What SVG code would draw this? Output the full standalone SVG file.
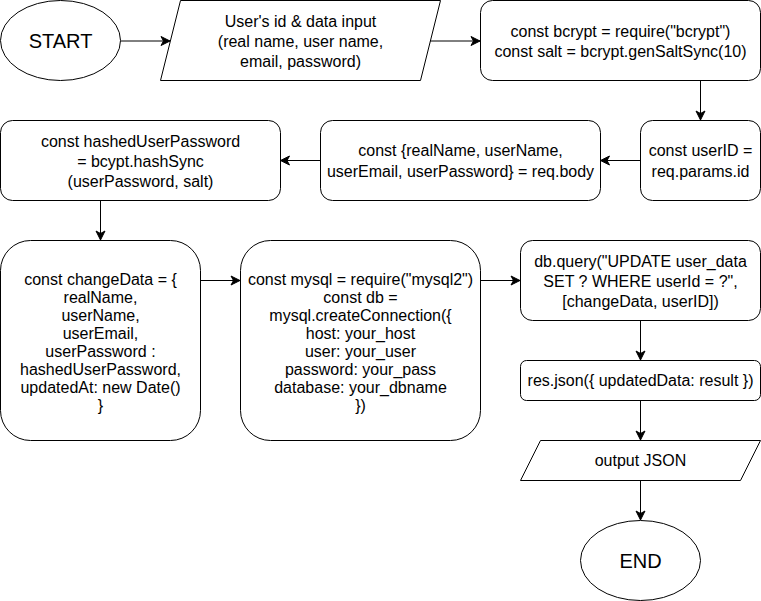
<svg xmlns="http://www.w3.org/2000/svg" width="761" height="601" viewBox="0 0 761 601">
<style>
.s{fill:#fff;stroke:#000;stroke-width:1}
.t{font-family:"Liberation Sans",Arial,sans-serif;font-size:16px;fill:#000;text-anchor:middle}
.big{font-size:20px}
.c{fill:none;stroke:#000;stroke-width:1;marker-end:url(#a)}
</style>
<defs>
<marker id="a" markerUnits="userSpaceOnUse" markerWidth="12" markerHeight="12" viewBox="-10 -6 12 12" refX="0" refY="0" orient="auto">
<path d="M0,0 L-9,-4.5 L-6.5,0 L-9,4.5 Z" fill="#000" stroke="#000" stroke-width="1"/>
</marker>
</defs>
<rect width="761" height="601" fill="#fff"/>
<g id="connectors">
<path class="c" d="M120.5,41 L170,41"/>
<path class="c" d="M430,41 L480,41"/>
<path class="c" d="M700.5,80.5 L700.5,120"/>
<path class="c" d="M640.5,160.5 L600.5,160.5"/>
<path class="c" d="M320.5,160.5 L280.5,160.5"/>
<path class="c" d="M100.5,200.5 L100.5,240"/>
<path class="c" d="M200.5,280.5 L240,280.5"/>
<path class="c" d="M480.5,280.5 L520,280.5"/>
<path class="c" d="M640.5,320.5 L640.5,360"/>
<path class="c" d="M640.5,400.5 L640.5,440"/>
<path class="c" d="M640.5,480.5 L640.5,520"/>
</g>
<g id="start">
<ellipse class="s" cx="60.5" cy="40.5" rx="60" ry="40"/>
<text class="t big" x="60.5" y="48">START</text>
</g>
<g id="input">
<polygon class="s" points="180.5,0.5 440.5,0.5 420.5,80.5 160.5,80.5"/>
<text class="t" x="300.5" y="26.5">User's id &amp; data input</text>
<text class="t" x="300.5" y="46.5">(real name, user name,</text>
<text class="t" x="300.5" y="66.5">email, password)</text>
</g>
<g id="bcrypt">
<rect class="s" x="480.5" y="0.5" width="280" height="80" rx="12"/>
<text class="t" x="620.5" y="37">const bcrypt = require("bcrypt")</text>
<text class="t" x="620.5" y="57">const salt = bcrypt.genSaltSync(10)</text>
</g>
<g id="userid">
<rect class="s" x="640.5" y="120.5" width="120" height="80" rx="12"/>
<text class="t" x="700.5" y="156">const userID =</text>
<text class="t" x="700.5" y="177">req.params.id</text>
</g>
<g id="reqbody">
<rect class="s" x="320.5" y="120.5" width="280" height="80" rx="12"/>
<text class="t" x="460.5" y="156">const {realName, userName,</text>
<text class="t" x="460.5" y="177">userEmail, userPassword} = req.body</text>
</g>
<g id="hashed">
<rect class="s" x="0.5" y="120.5" width="280" height="80" rx="12"/>
<text class="t" x="140.5" y="147">const hashedUserPassword</text>
<text class="t" x="140.5" y="167">= bcypt.hashSync</text>
<text class="t" x="140.5" y="187">(userPassword, salt)</text>
</g>
<g id="changedata">
<rect class="s" x="0.5" y="240.5" width="200" height="200" rx="30"/>
<text class="t" x="100.5" y="285">const changeData = {</text>
<text class="t" x="100.5" y="303">realName,</text>
<text class="t" x="100.5" y="321">userName,</text>
<text class="t" x="100.5" y="339">userEmail,</text>
<text class="t" x="100.5" y="357">userPassword :</text>
<text class="t" x="100.5" y="375">hashedUserPassword,</text>
<text class="t" x="100.5" y="393">updatedAt: new Date()</text>
<text class="t" x="100.5" y="411">}</text>
</g>
<g id="mysql">
<rect class="s" x="240.5" y="240.5" width="240" height="200" rx="30"/>
<text class="t" x="360.5" y="285">const mysql = require("mysql2")</text>
<text class="t" x="360.5" y="303">const db =</text>
<text class="t" x="360.5" y="321">mysql.createConnection({</text>
<text class="t" x="360.5" y="339">host: your_host</text>
<text class="t" x="360.5" y="357">user: your_user</text>
<text class="t" x="360.5" y="375">password: your_pass</text>
<text class="t" x="360.5" y="393">database: your_dbname</text>
<text class="t" x="360.5" y="411">})</text>
</g>
<g id="dbquery">
<rect class="s" x="520.5" y="240.5" width="240" height="80" rx="12"/>
<text class="t" x="640.5" y="267">db.query("UPDATE user_data</text>
<text class="t" x="640.5" y="287">SET ? WHERE userId = ?",</text>
<text class="t" x="640.5" y="307">[changeData, userID])</text>
</g>
<g id="resjson">
<rect class="s" x="520.5" y="360.5" width="240" height="40" rx="6"/>
<text class="t" x="640.5" y="386">res.json({ updatedData: result })</text>
</g>
<g id="output">
<polygon class="s" points="540.5,440.5 760.5,440.5 740.5,480.5 520.5,480.5"/>
<text class="t" x="640.5" y="466">output JSON</text>
</g>
<g id="end">
<ellipse class="s" cx="640.5" cy="560.5" rx="60" ry="40"/>
<text class="t big" x="640.5" y="568">END</text>
</g>
</svg>
